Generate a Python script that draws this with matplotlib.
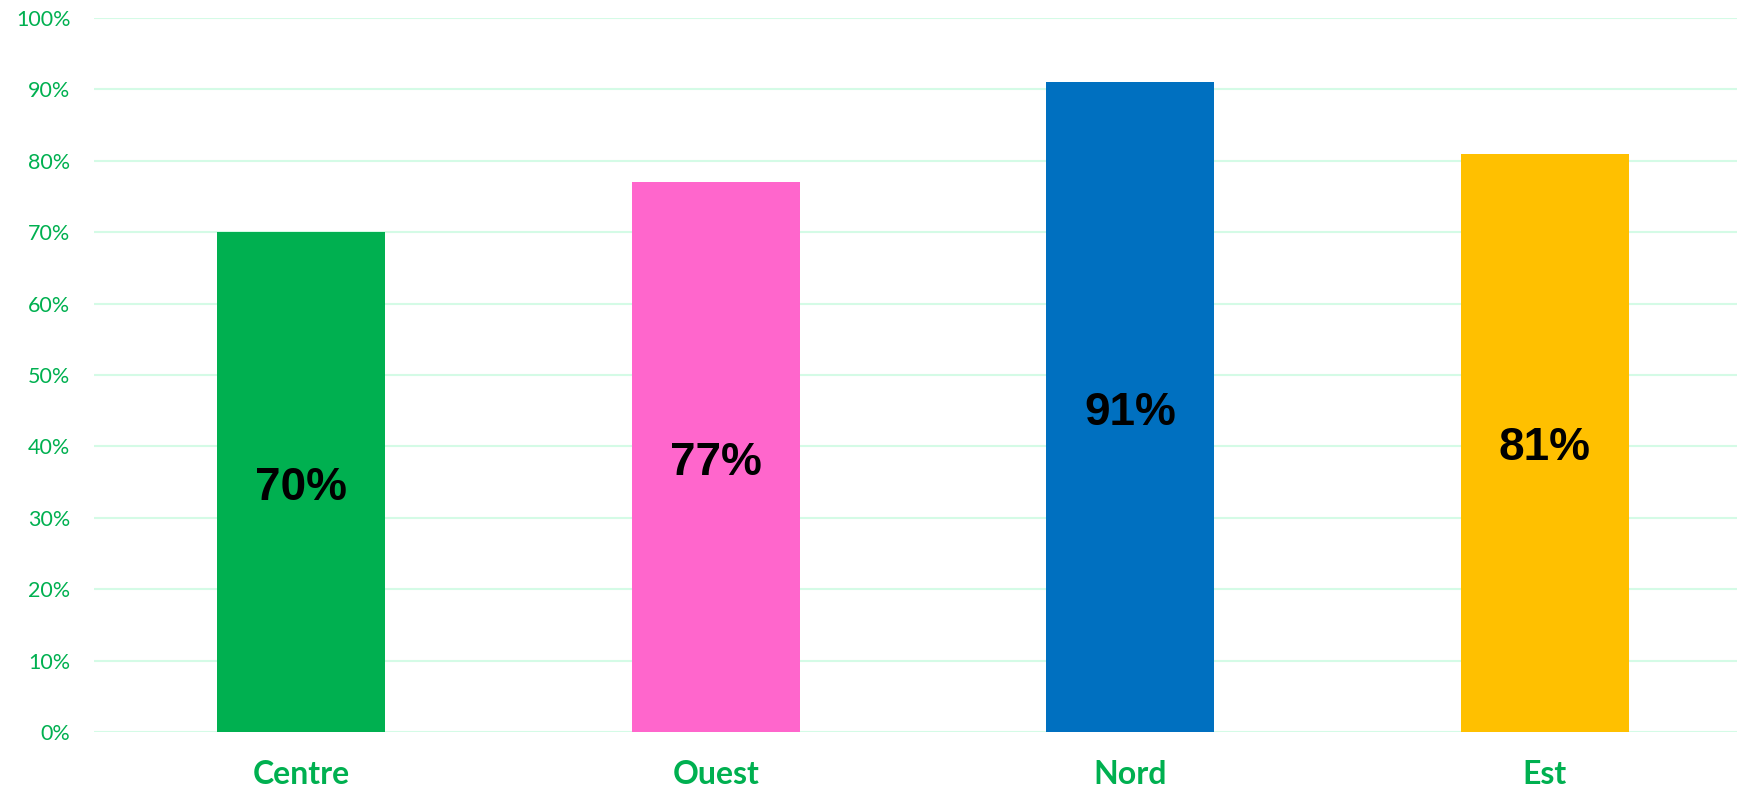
import matplotlib
matplotlib.use("Agg")
import matplotlib.pyplot as plt
from matplotlib.ticker import FuncFormatter

categories = ["Centre", "Ouest", "Nord", "Est"]
values = [70, 77, 91, 81]
colors = ["#00b050", "#ff66cc", "#0070c0", "#ffc000"]
yticks = list(range(0, 101, 10))

green = "#00b050"
grid_color = "#d4fbe6"

fig = plt.figure(figsize=(17.37, 7.91), dpi=100)
ax = fig.add_axes([94/1737, 59/791, 1 - 94/1737, 714/791])

x = list(range(len(categories)))
bars = ax.bar(x, values, width=0.405, color=colors, zorder=3)

for xi, v in zip(x, values):
    ax.annotate(f"{v}%", xy=(xi, v / 2), xytext=(0, -4), textcoords="offset points",
                ha="center", va="center",
                fontsize=33, fontweight="bold", family="Liberation Sans",
                color="black", zorder=4)

ax.set_ylim(0, 100)
ax.set_xlim(-0.5, 3.464)
ax.set_yticks(yticks)
ax.yaxis.set_major_formatter(FuncFormatter(lambda v, p: f"{int(v)}%"))
ax.grid(axis="y", color=grid_color, linewidth=1.5, zorder=0)
ax.set_axisbelow(True)

ax.set_xticks(x)
ax.set_xticklabels(categories)
for lab in ax.get_xticklabels():
    lab.set_fontsize(23)
    lab.set_fontweight("bold")
    lab.set_color(green)
    lab.set_family("Lato")
for lab in ax.get_yticklabels():
    lab.set_fontsize(15.5)
    lab.set_color(green)
    lab.set_family("Lato")

ax.tick_params(axis="y", length=0, pad=17)
ax.tick_params(axis="x", length=0, pad=20)
for s in ax.spines.values():
    s.set_visible(False)

fig.savefig("out.png", dpi=100)
